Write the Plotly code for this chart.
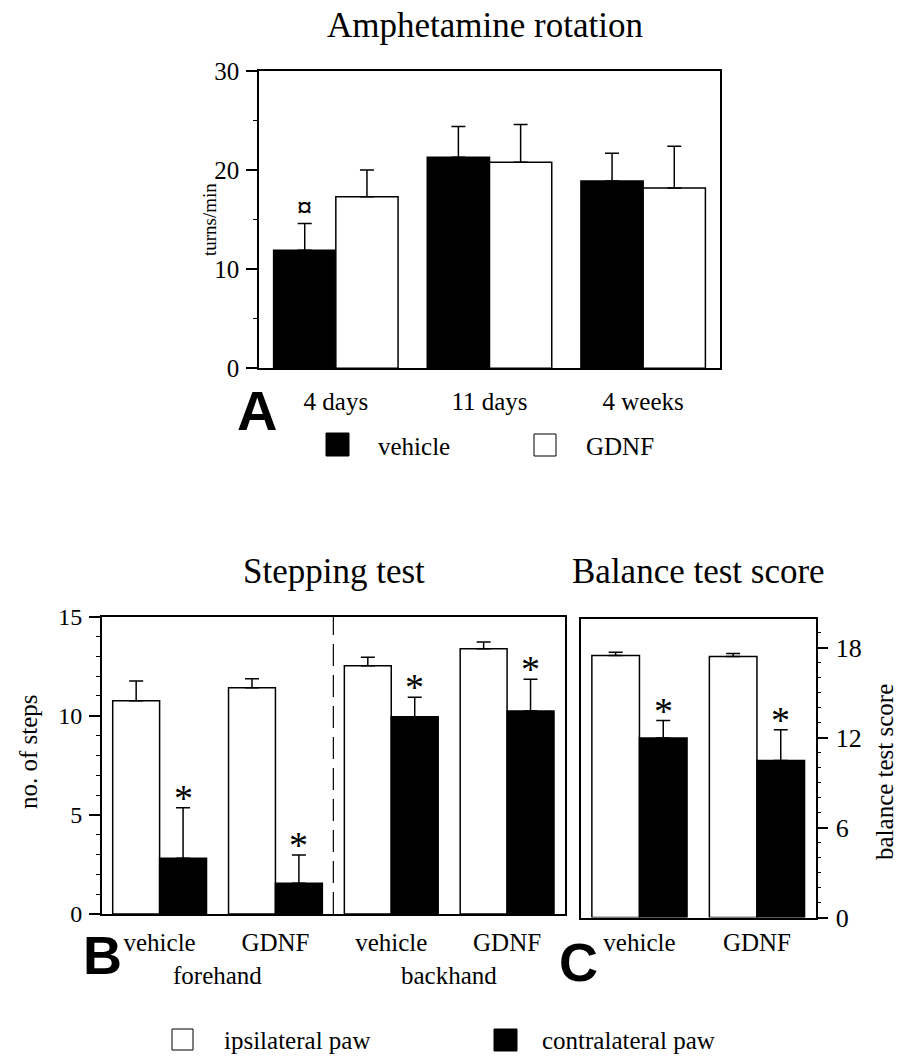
import plotly.graph_objects as go

W, H = 898, 1057

# ---------------- data ----------------
# Panel A: amphetamine rotation (turns/min)
time_points = ["4 days", "11 days", "4 weeks"]
vehicle_turns = [11.9, 21.3, 18.9]
vehicle_turns_sem = [2.7, 3.1, 2.8]
gdnf_turns = [17.3, 20.8, 18.2]
gdnf_turns_sem = [2.7, 3.8, 4.2]
a_yticks = [0, 10, 20, 30]

# Panel B: stepping test (no. of steps)
step_groups = ["vehicle", "GDNF", "vehicle", "GDNF"]
step_directions = ["forehand", "backhand"]
step_ipsi = [10.76, 11.42, 12.53, 13.38]
step_ipsi_sem = [1.0, 0.45, 0.42, 0.34]
step_contra = [2.81, 1.55, 9.95, 10.24]
step_contra_sem = [2.55, 1.43, 0.98, 1.6]
b_yticks = [0, 5, 10, 15]

# Panel C: balance test score
bal_groups = ["vehicle", "GDNF"]
bal_ipsi = [17.47, 17.4]
bal_ipsi_sem = [0.22, 0.2]
bal_contra = [11.96, 10.47]
bal_contra_sem = [1.17, 2.04]
c_yticks = [0, 6, 12, 18]

SERIF = "Liberation Serif"
SANS = "Liberation Sans"
BARGAP = 0.19
LW = 1.5


def px(x):
    return x / W


def py(y):
    return 1 - y / H


def err(vals):
    return dict(type="data", symmetric=False, array=vals, arrayminus=[0] * len(vals),
                color="black", thickness=LW, width=7)


def bar(xs, ys, sem, fill, xa, ya, name):
    return go.Bar(x=xs, y=ys, name=name, xaxis=xa, yaxis=ya, showlegend=False,
                  marker=dict(color=fill, line=dict(color="black", width=LW)),
                  error_y=err(sem))


fig = go.Figure()
xa_pos = list(range(len(time_points)))
xb_pos = list(range(len(step_groups)))
xc_pos = list(range(len(bal_groups)))

fig.add_trace(bar(xa_pos, vehicle_turns, vehicle_turns_sem, "black", "x", "y", "vehicle"))
fig.add_trace(bar(xa_pos, gdnf_turns, gdnf_turns_sem, "white", "x", "y", "GDNF"))
fig.add_trace(bar(xb_pos, step_ipsi, step_ipsi_sem, "white", "x2", "y2", "ipsilateral paw"))
fig.add_trace(bar(xb_pos, step_contra, step_contra_sem, "black", "x2", "y2", "contralateral paw"))
fig.add_trace(bar(xc_pos, bal_ipsi, bal_ipsi_sem, "white", "x3", "y3", "ipsilateral paw"))
fig.add_trace(bar(xc_pos, bal_contra, bal_contra_sem, "black", "x3", "y3", "contralateral paw"))

axis_common = dict(showline=True, linecolor="black", linewidth=LW, mirror=True,
                   showgrid=False, zeroline=False, automargin=False)


def xaxis(domain, anchor, n, labels, standoff):
    return dict(domain=domain, anchor=anchor, range=[-0.5, n - 0.5],
                tickmode="array", tickvals=list(range(n)), ticktext=labels,
                ticks="", tickfont=dict(family=SERIF, size=25, color="black"),
                ticklabelstandoff=standoff, fixedrange=True, **axis_common)


def yaxis(domain, anchor, rng, tickvals, minor_dtick, size, side="left"):
    return dict(domain=domain, anchor=anchor, range=rng, side=side,
                tickmode="array", tickvals=tickvals,
                ticks="outside", ticklen=11, tickwidth=LW, tickcolor="black",
                minor=dict(dtick=minor_dtick, tick0=0, ticks="outside", ticklen=4,
                           tickwidth=1.2, tickcolor="black", showgrid=False),
                tickfont=dict(family=SERIF, size=size, color="black"),
                ticklabelstandoff=2, fixedrange=True, **axis_common)


fig.update_layout(
    width=W, height=H, margin=dict(l=0, r=0, t=0, b=0),
    paper_bgcolor="white", plot_bgcolor="white",
    barmode="group", bargap=BARGAP, bargroupgap=0,
    showlegend=False,
    xaxis=xaxis([px(259), px(720)], "y", len(time_points), time_points, 10),
    yaxis=yaxis([py(368.3), py(71)], "x", [0, 30], a_yticks, 5, 25),
    xaxis2=xaxis([px(101.7), px(565)], "y2", len(step_groups), step_groups, 5),
    yaxis2=yaxis([py(914), py(616.7)], "x2", [0, 15], b_yticks, 1, 24),
    xaxis3=xaxis([px(580.7), px(815.7)], "y3", len(bal_groups), bal_groups, 2),
    yaxis3=yaxis([py(917.5), py(619)], "x3", [0, 19.9], c_yticks, 1, 26, side="right"),
)

ann = []


def text(x, y, s, size, family=SERIF, xanchor="center", angle=0, bold=False):
    ann.append(dict(x=px(x), y=py(y), xref="paper", yref="paper", text=f"<b>{s}</b>" if bold else s,
                    showarrow=False, xanchor=xanchor, yanchor="middle", textangle=angle,
                    font=dict(family=family, size=size, color="black")))


# titles
text(485, 26, "Amphetamine rotation", 35)
text(334, 571, "Stepping test", 35)
text(698, 571, "Balance test score", 35)
# panel letters
text(257, 410, "A", 56, SANS, bold=True)
text(102, 955, "B", 54, SANS, bold=True)
text(578, 962, "C", 54, SANS, bold=True)
# axis titles
text(210, 220, "turns/min", 19, angle=-90)
text(28, 752, "no. of steps", 25, angle=-90)
text(884, 772, "balance test score", 25, angle=-90)
# legends
text(376, 446, "vehicle", 25, xanchor="left")
text(584, 446, "GDNF", 25, xanchor="left")
text(222, 1040, "ipsilateral paw", 25, xanchor="left")
text(540, 1040, "contralateral paw", 25, xanchor="left")

# forehand / backhand group labels (between category pairs of panel B)
for i, d in enumerate(step_directions):
    ann.append(dict(x=2 * i + 0.5, y=py(975), xref="x2", yref="paper", text=d,
                    showarrow=False, yanchor="middle",
                    font=dict(family=SERIF, size=25, color="black")))

# significance markers
off = (1 - BARGAP) / 4
ann.append(dict(x=0 - off, y=vehicle_turns[0] + vehicle_turns_sem[0], xref="x", yref="y",
                text="<b>¤</b>", showarrow=False, yanchor="middle", yshift=17,
                font=dict(family=SERIF, size=30, color="black")))
for i in xb_pos:
    ann.append(dict(x=i + off, y=step_contra[i] + step_contra_sem[i], xref="x2", yref="y2",
                    text="*", showarrow=False, yanchor="middle", yshift=10,
                    font=dict(family=SERIF, size=38, color="black")))
for i in xc_pos:
    ann.append(dict(x=i + off, y=bal_contra[i] + bal_contra_sem[i], xref="x3", yref="y3",
                    text="*", showarrow=False, yanchor="middle", yshift=10,
                    font=dict(family=SERIF, size=38, color="black")))

fig.update_layout(annotations=ann)

shapes = [
    # dashed separator between forehand and backhand
    dict(type="line", xref="x2", yref="y2", x0=1.5, x1=1.5, y0=0, y1=15,
         line=dict(color="black", width=1.2, dash="22px,9px")),
    # legend squares
    dict(type="rect", xref="paper", yref="paper", x0=px(326), x1=px(349), y0=py(456), y1=py(433),
         fillcolor="black", line=dict(color="black", width=1)),
    dict(type="rect", xref="paper", yref="paper", x0=px(534), x1=px(556), y0=py(456), y1=py(434),
         fillcolor="white", line=dict(color="black", width=1)),
    dict(type="rect", xref="paper", yref="paper", x0=px(172), x1=px(193), y0=py(1050), y1=py(1029),
         fillcolor="white", line=dict(color="black", width=1)),
    dict(type="rect", xref="paper", yref="paper", x0=px(494), x1=px(517), y0=py(1051), y1=py(1029),
         fillcolor="black", line=dict(color="black", width=1)),
]
fig.update_layout(shapes=shapes)

fig.write_html("out.html", config={"displayModeBar": False},
               post_script="document.body.style.margin='0px';")
